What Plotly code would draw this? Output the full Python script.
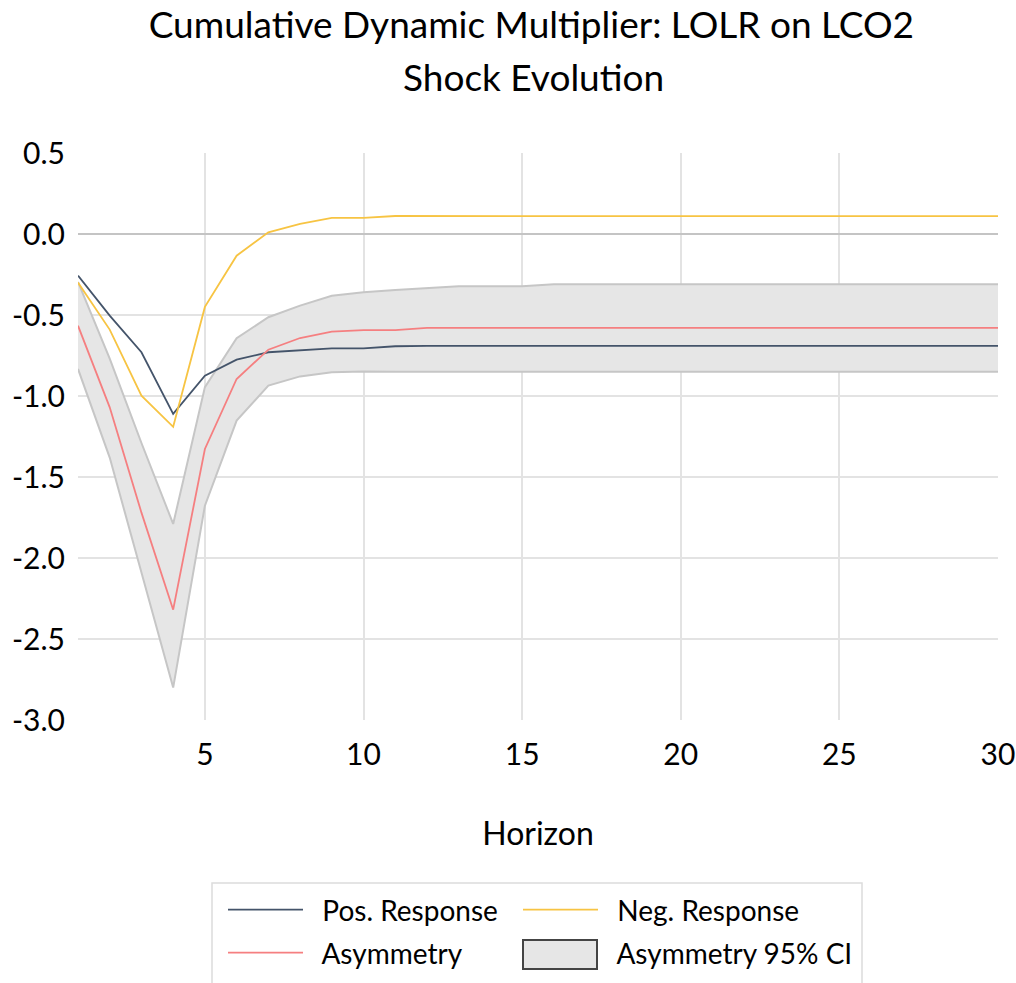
import plotly.graph_objects as go

horizon = list(range(1, 31))

pos_response = [-0.257, -0.504, -0.73, -1.11, -0.875, -0.776, -0.73, -0.72, -0.706, -0.706,
                -0.693] + [-0.69] * 19
neg_response = [-0.30, -0.59, -0.998, -1.19, -0.45, -0.134, 0.01, 0.062, 0.099, 0.099,
                0.111] + [0.11] * 19
asymmetry = [-0.566, -1.07, -1.72, -2.319, -1.327, -0.895, -0.714, -0.642, -0.603, -0.593,
             -0.593] + [-0.58] * 19
ci_upper = [-0.296, -0.77, -1.29, -1.79, -0.945, -0.643, -0.514, -0.442, -0.381, -0.36,
            -0.345, -0.335, -0.323, -0.323, -0.323] + [-0.31] * 15
ci_lower = [-0.833, -1.38, -2.09, -2.80, -1.677, -1.152, -0.936, -0.879, -0.854, -0.848,
            -0.85, -0.85, -0.85, -0.85, -0.85] + [-0.85] * 15

y_tickvals = [0.5, 0.0, -0.5, -1.0, -1.5, -2.0, -2.5, -3.0]
y_ticktext = ["0.5", "0.0", "-0.5", "-1.0", "-1.5", "-2.0", "-2.5", "-3.0"]
x_tickvals = [5, 10, 15, 20, 25, 30]

title_line1 = "Cumulative Dynamic Multiplier: LOLR on LCO2"
title_line2 = "Shock Evolution"

FONT = "Lato"
W, H = 1016, 983
L, R, T, B = 78, 18, 153, 263
PW, PH = W - L - R, H - T - B


def px_x(px):
    return (px - L) / PW


def px_y(py):
    return (H - B - py) / PH


NB = "\u00a0\u00a0"

fig = go.Figure()
fig.add_trace(go.Scatter(x=horizon, y=ci_lower, mode="lines",
                         line=dict(color="#c6c6c6", width=2), showlegend=False,
                         hoverinfo="skip"))
fig.add_trace(go.Scatter(x=horizon, y=ci_upper, mode="lines", fill="tonexty",
                         fillcolor="#e6e6e6", line=dict(color="#c6c6c6", width=2),
                         showlegend=False, name="Asymmetry 95% CI"))
fig.add_trace(go.Scatter(x=horizon, y=pos_response, mode="lines",
                         line=dict(color="#44546a", width=1.8),
                         name=NB + "Pos. Response", legend="legend"))
fig.add_trace(go.Scatter(x=horizon, y=neg_response, mode="lines",
                         line=dict(color="#f7c443", width=1.8),
                         name=NB + "Neg. Response", legend="legend2"))
fig.add_trace(go.Scatter(x=horizon, y=asymmetry, mode="lines",
                         line=dict(color="#f57f80", width=1.8),
                         name=NB + "Asymmetry", legend="legend3"))
# legend-only entry for the confidence band (symbol drawn as a box shape below)
fig.add_trace(go.Scatter(x=[None], y=[None], mode="lines",
                         line=dict(color="rgba(0,0,0,0)", width=0),
                         name=NB + "Asymmetry 95% CI", legend="legend4"))

legend_common = dict(orientation="h", xanchor="left", yanchor="top", itemwidth=75,
                     bgcolor="rgba(0,0,0,0)", borderwidth=0,
                     font=dict(size=28, family=FONT, color="black"))

COL1, COL2 = 223, 518
ROW1, ROW2 = 885, 928

fig.update_layout(
    width=W, height=H,
    margin=dict(l=L, r=R, t=T, b=B, autoexpand=False),
    paper_bgcolor="white", plot_bgcolor="white",
    font=dict(family=FONT, color="black"),
    title=dict(text=title_line1,
               x=0.523, xanchor="center", y=1 - 25 / H, yanchor="middle", yref="container",
               font=dict(size=37, family=FONT, color="black")),
    annotations=[dict(text=title_line2, xref="paper", yref="paper",
                      x=px_x(533), y=px_y(76), xanchor="center",
                      yanchor="middle", showarrow=False,
                      font=dict(size=37, family=FONT, color="black"))],
    shapes=[
        dict(type="rect", xref="paper", yref="paper",
             x0=px_x(212), x1=px_x(862), y0=px_y(883), y1=px_y(1000),
             line=dict(color="#dcdcdc", width=1.5), fillcolor="rgba(0,0,0,0)"),
        dict(type="rect", xref="paper", yref="paper",
             x0=px_x(523), x1=px_x(597), y0=px_y(940), y1=px_y(969),
             line=dict(color="#444444", width=2), fillcolor="#e6e6e6"),
    ],
    xaxis=dict(range=[1, 30], tickvals=x_tickvals, showgrid=True, gridcolor="#e3e3e3",
               gridwidth=1.5, zeroline=False, showline=False, ticks="",
               automargin=False, ticklabelstandoff=14,
               tickfont=dict(size=30), title=dict(text="Horizon", font=dict(size=32),
                                                  standoff=52)),
    yaxis=dict(range=[-3.0, 0.5], tickvals=y_tickvals, ticktext=y_ticktext,
               showgrid=True, gridcolor="#e3e3e3", gridwidth=1.5, automargin=False,
               zeroline=True, zerolinecolor="#c4c4c4", zerolinewidth=2,
               showline=False, ticks="", tickfont=dict(size=30), ticklabelstandoff=12),
    legend=dict(x=px_x(COL1), y=px_y(ROW1), **legend_common),
    legend2=dict(x=px_x(COL2), y=px_y(ROW1), **legend_common),
    legend3=dict(x=px_x(COL1), y=px_y(ROW2), **legend_common),
    legend4=dict(x=px_x(COL2), y=px_y(ROW2), **legend_common),
)

fig.write_html("out.html")
